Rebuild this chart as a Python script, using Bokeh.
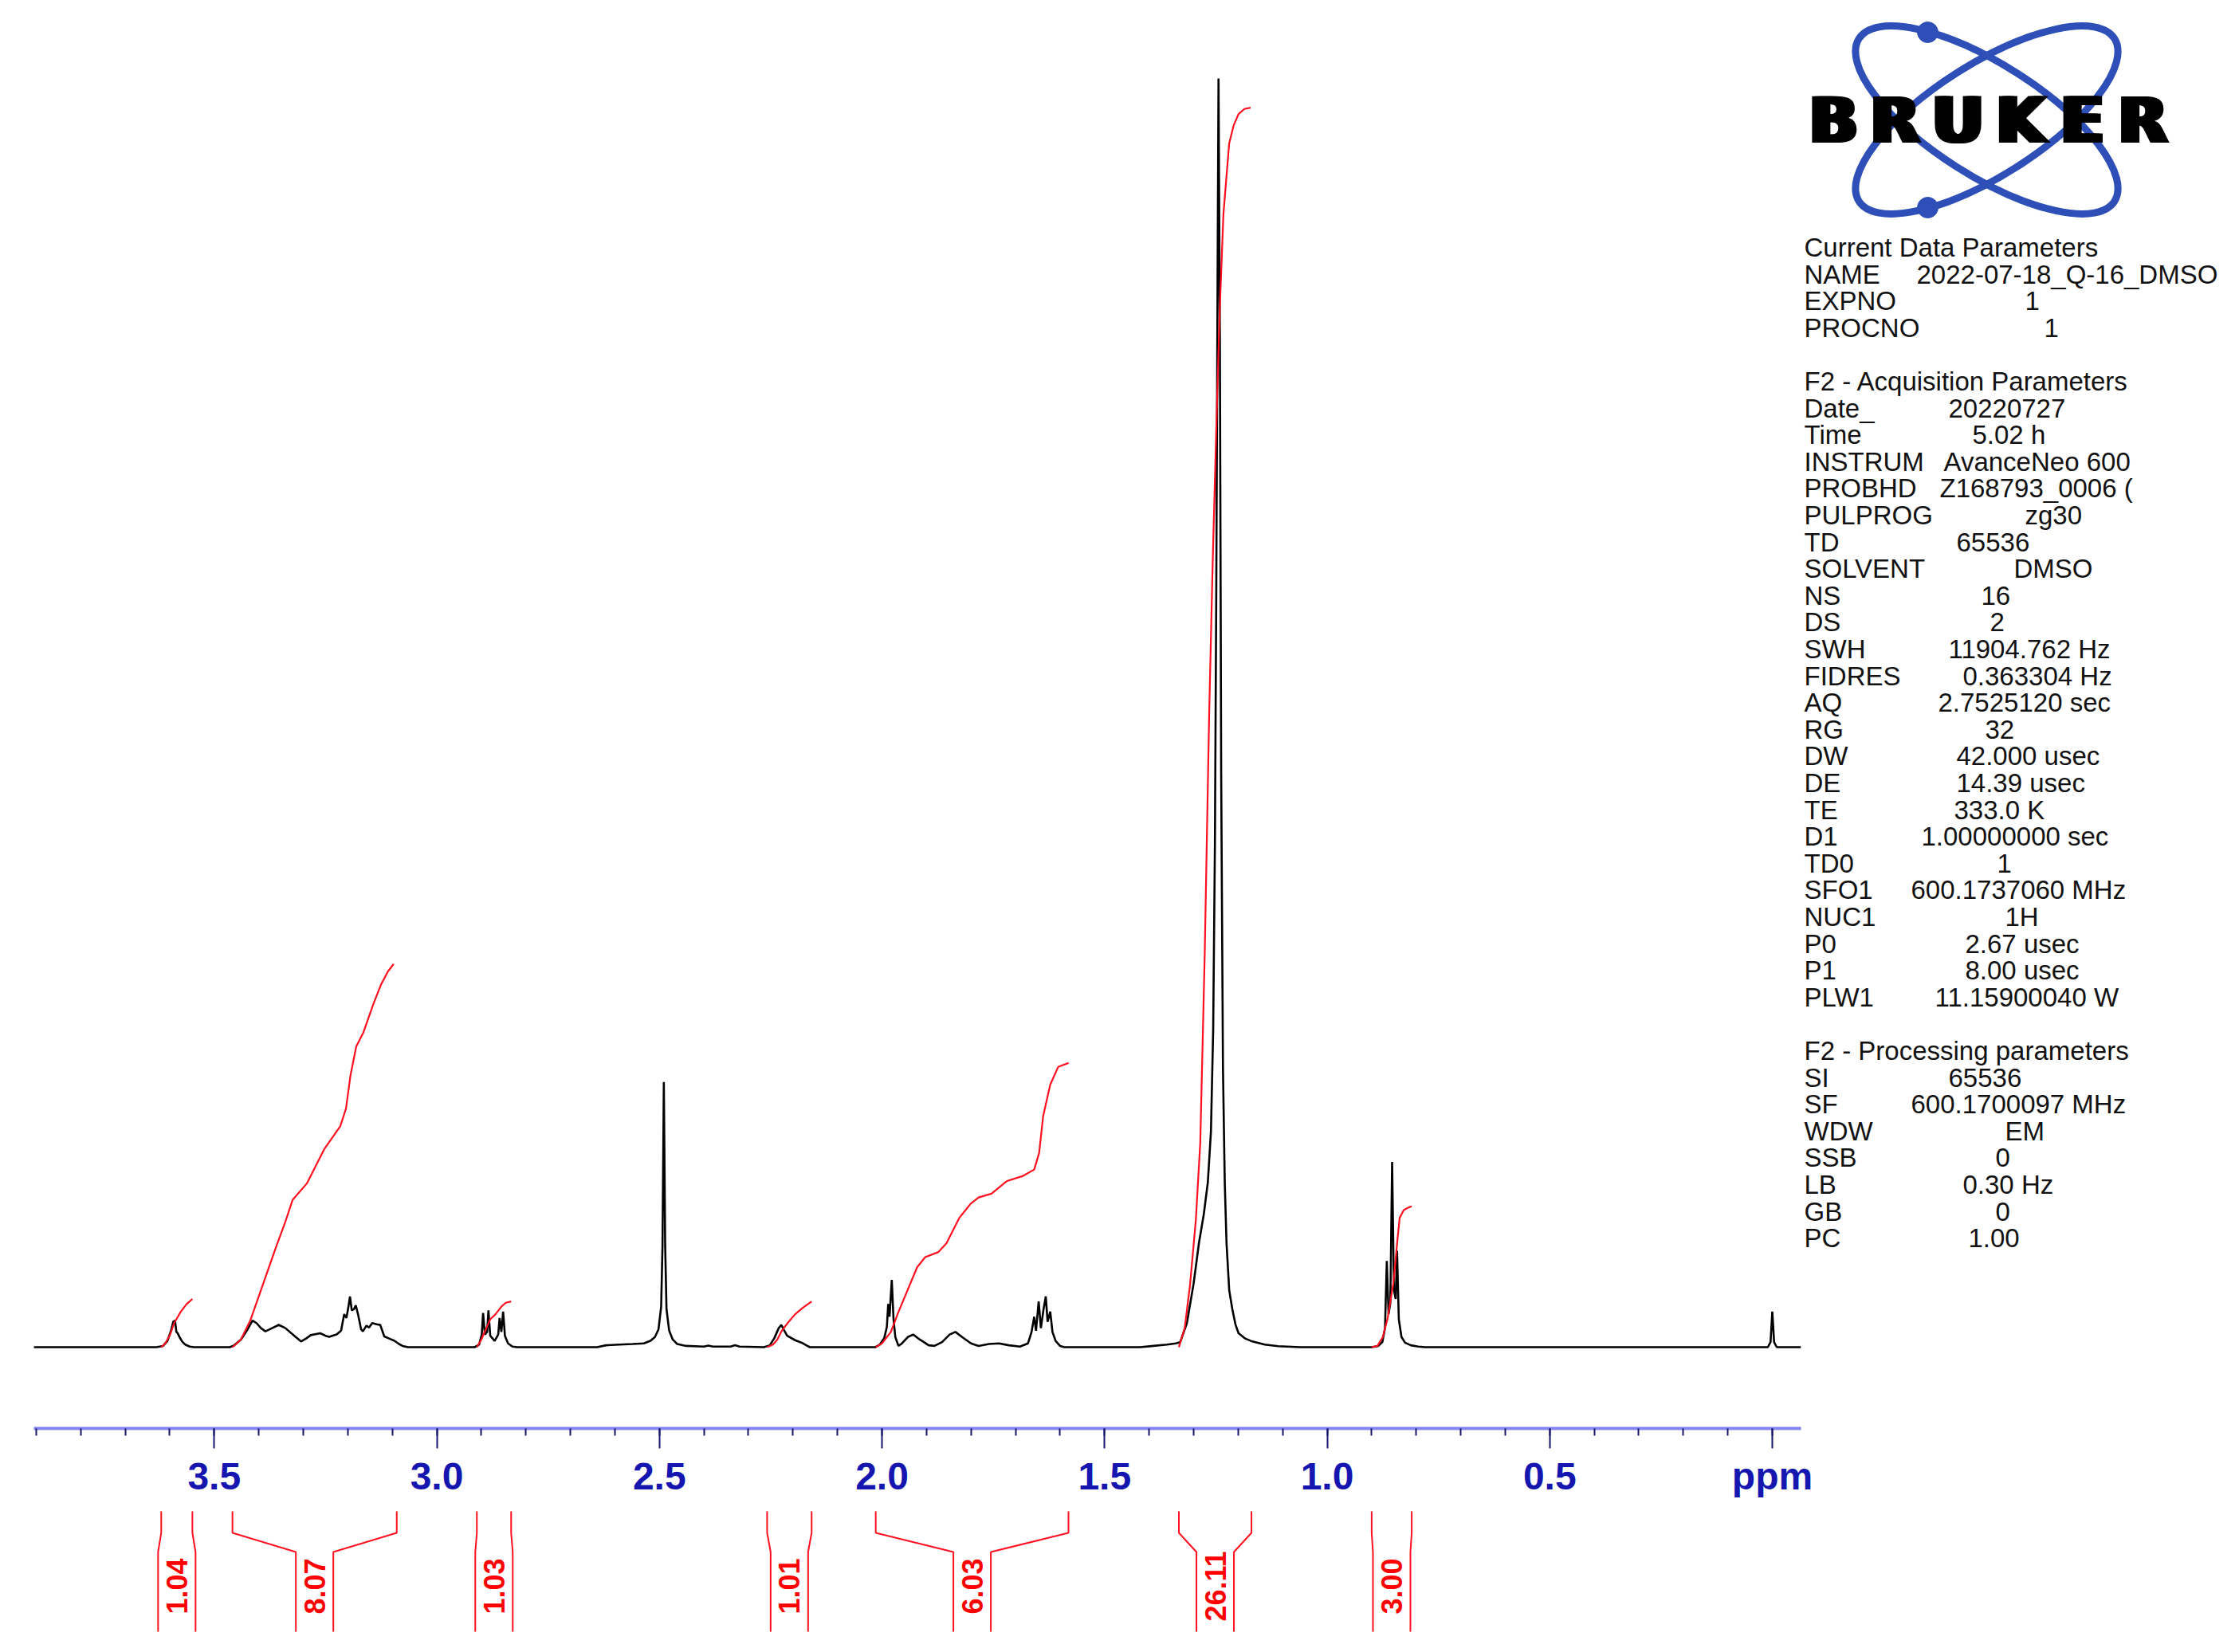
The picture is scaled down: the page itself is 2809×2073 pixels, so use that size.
import math
from bokeh.plotting import figure
from bokeh.models import Range1d, LinearAxis, SingleIntervalTicker, PrintfTickFormatter
from bokeh.layouts import column
from bokeh.embed import file_html
from bokeh.resources import INLINE
from bokeh.core.properties import value

# ---------------- data ----------------
spectrum_ppm = [
    3.905, 3.630, 3.615, 3.605, 3.597, 3.592, 3.588, 3.585, 3.582, 3.578, 3.572, 3.565, 3.555, 3.545,
    3.465, 3.455, 3.440, 3.425, 3.414, 3.405, 3.395, 3.385, 3.370, 3.355, 3.340, 3.320, 3.305, 3.293,
    3.283, 3.262, 3.250, 3.242, 3.225, 3.215, 3.208, 3.203, 3.198, 3.195, 3.191, 3.186, 3.182, 3.177,
    3.170, 3.166, 3.158, 3.152, 3.145, 3.135, 3.127, 3.118, 3.105, 3.095, 3.085, 3.077, 3.065,
    2.915, 2.905, 2.899, 2.896, 2.892, 2.887, 2.884, 2.880, 2.870, 2.862, 2.859, 2.855, 2.851, 2.847,
    2.840, 2.830, 2.820,
    2.640, 2.620, 2.590, 2.560, 2.535, 2.520, 2.510, 2.502, 2.496, 2.493, 2.490, 2.487, 2.484, 2.478,
    2.470, 2.460, 2.440, 2.400, 2.390, 2.380, 2.340, 2.330, 2.320,
    2.265, 2.252, 2.242, 2.232, 2.226, 2.220, 2.213, 2.195, 2.180, 2.170, 2.162,
    2.015, 2.005, 1.995, 1.989, 1.986, 1.983, 1.978, 1.974, 1.970, 1.963, 1.955, 1.942, 1.930, 1.915,
    1.895, 1.882, 1.865, 1.848, 1.835, 1.820, 1.800, 1.783, 1.760, 1.737, 1.715, 1.690,
    1.672, 1.664, 1.658, 1.654, 1.648, 1.643, 1.637, 1.632, 1.628, 1.622, 1.617, 1.610, 1.600, 1.590,
    1.420, 1.390, 1.360, 1.340,
    1.330, 1.315, 1.300, 1.288, 1.277, 1.268, 1.261, 1.256, 1.252, 1.249, 1.246, 1.244, 1.241, 1.238,
    1.234, 1.230, 1.226, 1.220, 1.213, 1.206, 1.199, 1.185, 1.168, 1.140, 1.110, 1.060,
    0.900, 0.885, 0.876, 0.870, 0.866, 0.862, 0.858, 0.854, 0.850, 0.846, 0.843, 0.839, 0.833, 0.825,
    0.812, 0.795, 0.780,
    0.010, 0.004, 0.000, -0.004, -0.010, -0.064,
]
spectrum_intensity = [
    0.0, 0.0, 0.1, 0.5, 1.3, 2.0, 2.1, 1.2, 1.1, 0.8, 0.45, 0.2, 0.05, 0.0,
    0.0, 0.15, 0.6, 1.4, 2.1, 1.9, 1.5, 1.25, 1.5, 1.76, 1.5, 0.9, 0.45, 0.7,
    0.95, 1.1, 0.9, 0.82, 1.0, 1.3, 2.6, 2.3, 3.3, 4.0, 2.9, 3.0, 3.3, 2.6,
    1.4, 1.25, 1.7, 1.55, 1.9, 1.8, 1.75, 0.85, 0.65, 0.5, 0.25, 0.1, 0.0,
    0.0, 0.2, 1.0, 2.7, 1.0, 1.2, 2.9, 0.9, 0.5, 1.0, 2.3, 1.2, 2.8, 0.9,
    0.3, 0.05, 0.0,
    0.0, 0.15, 0.2, 0.25, 0.3, 0.5, 0.8, 1.4, 3.2, 8.0, 20.9, 8.0, 3.0, 1.3,
    0.6, 0.25, 0.1, 0.05, 0.12, 0.05, 0.05, 0.15, 0.05,
    0.0, 0.15, 0.7, 1.5, 1.75, 1.35, 0.9, 0.55, 0.35, 0.15, 0.0,
    0.0, 0.2, 0.7, 1.6, 3.4, 2.4, 5.3, 2.2, 0.8, 0.1, 0.3, 0.8, 1.0, 0.6,
    0.15, 0.1, 0.4, 1.0, 1.2, 0.8, 0.3, 0.1, 0.25, 0.3, 0.15, 0.05,
    0.3, 1.2, 2.4, 1.3, 3.6, 1.5, 3.0, 4.0, 2.0, 2.8, 1.2, 0.5, 0.1, 0.0,
    0.0, 0.1, 0.2, 0.3,
    0.4, 1.9, 5.0, 8.2, 10.5, 13.0, 17.0, 25.0, 40.0, 60.0, 85.0, 100.0, 80.0, 45.0,
    22.0, 13.0, 8.2, 4.5, 3.0, 1.8, 1.1, 0.7, 0.45, 0.2, 0.08, 0.0,
    0.0, 0.1, 0.4, 1.5, 6.8, 2.6, 3.5, 14.6, 4.5, 3.8, 7.6, 2.2, 0.8, 0.35,
    0.15, 0.05, 0.0,
    0.0, 0.4, 2.8, 0.4, 0.0, 0.0,
]

# integral curves (ppm, cumulative height)
int1_ppm = [3.619, 3.610, 3.600, 3.590, 3.575, 3.562, 3.549]
int1_val = [0.0, 0.3, 0.9, 1.9, 2.8, 3.4, 3.8]
int2_ppm = [3.459, 3.440, 3.419, 3.400, 3.380, 3.360, 3.341, 3.324, 3.292, 3.253, 3.217, 3.204,
            3.194, 3.181, 3.165, 3.142, 3.125, 3.110, 3.097]
int2_val = [0.0, 0.6, 2.1, 4.0, 6.0, 8.0, 9.8, 11.6, 12.9, 15.6, 17.4, 18.8,
            21.4, 23.7, 24.8, 27.1, 28.6, 29.6, 30.2]
int3_ppm = [2.910, 2.900, 2.890, 2.880, 2.868, 2.855, 2.845, 2.833]
int3_val = [0.0, 0.6, 1.4, 2.2, 2.6, 3.2, 3.5, 3.6]
int4_ppm = [2.258, 2.245, 2.235, 2.225, 2.212, 2.195, 2.178, 2.158]
int4_val = [0.0, 0.2, 0.6, 1.3, 1.9, 2.6, 3.1, 3.6]
int5_ppm = [2.014, 2.000, 1.980, 1.965, 1.952, 1.921, 1.903, 1.873, 1.855, 1.826, 1.801, 1.783,
            1.754, 1.719, 1.683, 1.658, 1.647, 1.638, 1.622, 1.604, 1.581]
int5_val = [0.0, 0.3, 1.2, 2.6, 3.7, 6.3, 7.1, 7.5, 8.2, 10.2, 11.3, 11.8,
            12.1, 13.1, 13.5, 14.0, 15.3, 18.2, 20.7, 22.1, 22.4]
int6_ppm = [1.333, 1.320, 1.308, 1.295, 1.285, 1.275, 1.265, 1.257, 1.249, 1.241, 1.233, 1.220,
            1.210, 1.199, 1.186, 1.172]
int6_val = [0.0, 1.5, 4.9, 10.0, 16.1, 31.0, 49.9, 62.0, 72.4, 82.0, 89.3, 94.9,
            96.3, 97.2, 97.6, 97.7]
int7_ppm = [0.900, 0.887, 0.875, 0.864, 0.851, 0.842, 0.837, 0.828, 0.818, 0.810]
int7_val = [0.0, 0.1, 0.8, 2.3, 5.1, 8.5, 10.2, 10.8, 11.0, 11.1]

region_start = [3.619, 3.459, 2.910, 2.258, 2.014, 1.333, 0.900]
region_end = [3.549, 3.090, 2.833, 2.158, 1.581, 1.170, 0.810]
region_label = ["1.04", "8.07", "1.03", "1.01", "6.03", "26.11", "3.00"]

param_labels = [
    "Current Data Parameters", "NAME", "EXPNO", "PROCNO", "",
    "F2 - Acquisition Parameters", "Date_", "Time", "INSTRUM", "PROBHD", "PULPROG", "TD",
    "SOLVENT", "NS", "DS", "SWH", "FIDRES", "AQ", "RG", "DW", "DE", "TE", "D1", "TD0", "SFO1",
    "NUC1", "P0", "P1", "PLW1", "",
    "F2 - Processing parameters", "SI", "SF", "WDW", "SSB", "LB", "GB", "PC",
]
param_values = [
    "", "2022-07-18_Q-16_DMSO", "1", "1", "",
    "", "20220727", "5.02 h", "AvanceNeo 600", "Z168793_0006 (", "zg30", "65536",
    "DMSO", "16", "2", "11904.762 Hz", "0.363304 Hz", "2.7525120 sec", "32", "42.000 usec",
    "14.39 usec", "333.0 K", "1.00000000 sec", "1", "600.1737060 MHz",
    "1H", "2.67 usec", "8.00 usec", "11.15900040 W", "",
    "", "65536", "600.1700097 MHz", "EM", "0", "0.30 Hz", "0", "1.00",
]
# layout: left edge (page px) of each value text
value_left = [
    0, 2404, 2540, 2564, 0,
    0, 2444, 2474, 2438, 2433, 2540, 2454,
    2526, 2485, 2496, 2444, 2462, 2431, 2490, 2454, 2454, 2451, 2410, 2505, 2397,
    2515, 2465, 2465, 2427, 0,
    0, 2444, 2397, 2515, 2503, 2462, 2503, 2469,
]
logo_letters = ["B", "R", "U", "K", "E", "R"]

# ---------------- layout constants ----------------
W = 2793
FRAME_H = 1792          # page y of the ppm axis line
BOTTOM = 100
H_SPEC = FRAME_H + BOTTOM
H_INT = 2057 - H_SPEC
PX0 = 2223.0   # page x of 0 ppm
PXS = 558.5    # px per ppm
BASE_Y = 1690.0
PX_PER_UNIT = 15.92

def ppm_at(px):
    return (PX0 - px) / PXS

x_range = Range1d(ppm_at(0), ppm_at(W))
y_range = Range1d((BASE_Y - FRAME_H) / PX_PER_UNIT, BASE_Y / PX_PER_UNIT)

spec = figure(width=W, height=H_SPEC, x_range=x_range, y_range=y_range,
              output_backend="svg", toolbar_location=None,
              x_axis_location=None, y_axis_location=None,
              min_border_left=0, min_border_right=0, min_border_top=0, min_border_bottom=BOTTOM)
spec.outline_line_color = None
spec.xgrid.grid_line_color = None
spec.ygrid.grid_line_color = None
spec.background_fill_color = "white"
spec.border_fill_color = "white"

spec.extra_x_ranges = {"px": Range1d(0, W)}
spec.extra_y_ranges = {"py": Range1d(FRAME_H, 0)}

ax = LinearAxis(ticker=SingleIntervalTicker(interval=0.5, num_minor_ticks=5),
                formatter=PrintfTickFormatter(format="%.1f"),
                bounds=(ppm_at(2259), ppm_at(42)))
ax.major_label_overrides = {0: "ppm"}
ax.axis_line_color = "#8585f2"
ax.axis_line_width = 4
ax.major_tick_line_color = "#16166e"
ax.major_tick_line_width = 2
ax.major_tick_out = 25
ax.major_tick_in = 0
ax.minor_tick_line_color = "#16166e"
ax.minor_tick_line_width = 2
ax.minor_tick_out = 9
ax.minor_tick_in = 0
ax.major_label_text_font = "Liberation Sans"
ax.major_label_text_font_style = "bold"
ax.major_label_text_font_size = "48px"
ax.major_label_text_color = "#1515b0"
ax.major_label_standoff = 8
spec.add_layout(ax, "below")

# spectrum
spec.line(spectrum_ppm, spectrum_intensity, line_color="black", line_width=2.6)

# integral curves
for xs, ys in [(int1_ppm, int1_val), (int2_ppm, int2_val), (int3_ppm, int3_val),
               (int4_ppm, int4_val), (int5_ppm, int5_val), (int6_ppm, int6_val),
               (int7_ppm, int7_val)]:
    spec.line(xs, ys, line_color="#ff1020", line_width=2.2)

# Bruker logo
logo_blue = "#2d4fb7"
spec.ellipse(x=[2492, 2492], y=[150, 150], width=[380, 380], height=[140, 140],
             angle=[0.567, -0.567], fill_color=None, line_color=logo_blue, line_width=9,
             x_range_name="px", y_range_name="py")
spec.circle(x=[2418, 2418], y=[40, 260], radius=13, fill_color=logo_blue, line_color=logo_blue,
            x_range_name="px", y_range_name="py")
letter_x = [2300, 2377, 2456, 2535, 2612, 2688]
for dx in (-4, 0, 4):
    spec.text(x=[v + dx for v in letter_x], y=[151] * 6, text=logo_letters,
              text_font=value("DejaVu Sans"), text_font_style="bold", text_font_size="80px",
              text_align="center", text_baseline="middle", text_color="black",
              x_range_name="px", y_range_name="py")

# parameter text
ROW0 = 310.0
ROWH = 33.6
lab_x, lab_y, lab_t = [], [], []
val_x, val_y, val_t = [], [], []
for i, (k, v) in enumerate(zip(param_labels, param_values)):
    y = ROW0 + i * ROWH
    if k:
        lab_x.append(2263); lab_y.append(y); lab_t.append(k)
    if v:
        val_x.append(value_left[i]); val_y.append(y); val_t.append(v)
for xs, ys, ts in [(lab_x, lab_y, lab_t), (val_x, val_y, val_t)]:
    spec.text(x=xs, y=ys, text=ts, text_font=value("Liberation Sans"), text_font_size="33px",
              text_align="left", text_baseline="middle", text_color="#111111",
              x_range_name="px", y_range_name="py")

# ---------------- integral brackets below the axis ----------------
integ = figure(width=W, height=H_INT, x_range=x_range, y_range=Range1d(2057, H_SPEC),
               output_backend="svg", toolbar_location=None,
               x_axis_location=None, y_axis_location=None, min_border=0)
integ.outline_line_color = None
integ.xgrid.grid_line_color = None
integ.ygrid.grid_line_color = None

hw = 23.5 / PXS
bx, by, cx = [], [], []
for s, e in zip(region_start, region_end):
    c = (s + e) / 2.0
    cx.append(c)
    bx.append([s, s, c + hw, c + hw]); by.append([1896, 1923, 1947, 2047])
    bx.append([e, e, c - hw, c - hw]); by.append([1896, 1923, 1947, 2047])
integ.multi_line(bx, by, line_color="#ff1020", line_width=2)
integ.text(x=cx, y=[1990] * len(cx), text=region_label, angle=math.pi / 2,
           text_align="center", text_baseline="middle", text_font=value("Liberation Sans"),
           text_font_style="bold", text_font_size="36px", text_color="#ff0000")

layout = column(spec, integ, spacing=0)
open("out.html", "w").write(file_html(layout, INLINE))
